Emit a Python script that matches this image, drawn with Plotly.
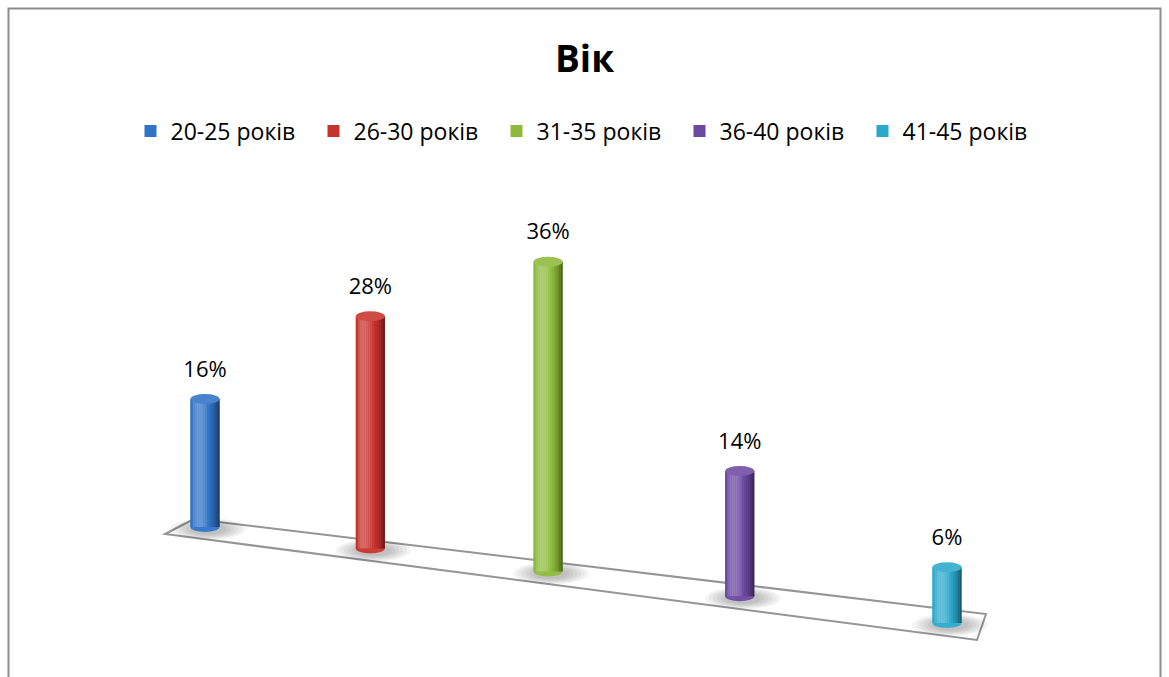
import math
import plotly.graph_objects as go

# ---- data ----
categories = ["20-25 років", "26-30 років", "31-35 років", "36-40 років", "41-45 років"]
values = [16, 28, 36, 14, 6]
labels = ["16%", "28%", "36%", "14%", "6%"]
title_text = "Вік"

# ---- style ----
mid_colors = ["#3072C6", "#C8322D", "#8DBA3B", "#6C48A2", "#2BA8CB"]

W, H = 1169, 677
PX_X = 742.0      # pixels per x unit
PX_Y = 8.0        # pixels per y unit (percent) at the back
X0_PX, Y0_PX = 205.0, 527.0
K = -0.14         # perspective strength
FLOOR_DROP = 12.0 # y units the floor drops from first to last bar
BAR_W = 29.0 / PX_X
CAP = 5.0 / PX_Y
N_STRIPS = 14

n = len(values)


def hex2rgb(h):
    h = h.lstrip("#")
    return [int(h[i:i + 2], 16) for i in (0, 2, 4)]


def mix(c1, c2, f):
    return [c1[k] + (c2[k] - c1[k]) * f for k in range(3)]


def rgb(c):
    return "rgb(%d,%d,%d)" % tuple(max(0, min(255, round(v))) for v in c)


def shade(base_hex, s):
    """colour across a cylinder, s in [0,1] from left to right"""
    base = hex2rgb(base_hex)
    dark = [v * 0.55 for v in base]
    light = mix(base, [255, 255, 255], 0.28)
    theta = math.asin(max(-1.0, min(1.0, 2 * s - 1)))
    inten = max(0.0, math.cos(theta + 0.45))
    if inten < 0.75:
        return rgb(mix(dark, base, inten / 0.75))
    return rgb(mix(base, light, (inten - 0.75) / 0.25))


def persp(i):
    u = i / (n - 1)
    p = 1.0 / (1.0 + K * u)
    t = u * (1.0 + K) * p
    return t, p


def dx(px):
    return (px - X0_PX) / PX_X


def dy(py):
    return (Y0_PX - py) / PX_Y


xs, bases, heights, tops = [], [], [], []
for i, v in enumerate(values):
    t, p = persp(i)
    xs.append(t)
    b = -FLOOR_DROP * t
    bases.append(b)
    heights.append(v * p)
    tops.append(b + v * p)

fig = go.Figure()

for i, cat in enumerate(categories):
    # legend / base layer
    fig.add_trace(go.Bar(
        x=[xs[i]], y=[heights[i]], base=[bases[i]],
        width=[BAR_W], offset=[-BAR_W / 2],
        marker=dict(color=mid_colors[i], line=dict(width=0)),
        name=cat, legendgroup=cat, showlegend=True,
        customdata=[labels[i]], hovertemplate=cat + ": %{customdata}<extra></extra>",
    ))
    # shading strips
    for k in range(N_STRIPS):
        a = k / N_STRIPS
        s = (k + 0.5) / N_STRIPS
        fig.add_trace(go.Bar(
            x=[xs[i]], y=[heights[i]], base=[bases[i]],
            width=[BAR_W / N_STRIPS * 1.05], offset=[-BAR_W / 2 + a * BAR_W],
            marker=dict(color=shade(mid_colors[i], s), line=dict(width=0)),
            name=cat, legendgroup=cat, showlegend=False, hoverinfo="skip",
        ))

# data labels
fig.add_trace(go.Scatter(
    x=xs, y=[tp + CAP + 23.0 / PX_Y for tp in tops], mode="text", text=labels,
    textfont=dict(family="Open Sans", size=22, color="#000000"),
    showlegend=False, hoverinfo="skip",
))

shapes = []
# frame
shapes.append(dict(type="rect", xref="paper", yref="paper",
                   x0=8.5 / W, x1=1160.5 / W, y0=-0.05, y1=1 - 8.5 / H,
                   line=dict(color="#8C8C8C", width=2), fillcolor="rgba(0,0,0,0)", layer="below"))
# floor
fl = [(194, 519), (165, 534), (977, 640), (986, 614)]
path = "M " + " L ".join(f"{dx(a):.5f},{dy(b):.4f}" for a, b in fl) + " Z"
shapes.append(dict(type="path", xref="x", yref="y", path=path,
                   line=dict(color="#959595", width=2), fillcolor="#FFFFFF", layer="below"))
# shadows and bottom ellipses
for i in range(n):
    cx, cy = xs[i] + 3 / PX_X, bases[i] - 2 / PX_Y
    for rw, rh in [(38, 11), (34, 10), (30, 9), (26, 8), (22, 7), (18, 6)]:
        shapes.append(dict(type="circle", xref="x", yref="y",
                           x0=cx - rw / PX_X, x1=cx + rw / PX_X,
                           y0=cy - rh / PX_Y, y1=cy + rh / PX_Y,
                           fillcolor="rgba(0,0,0,0.045)", line=dict(width=0), layer="below"))
    shapes.append(dict(type="circle", xref="x", yref="y",
                       x0=xs[i] - BAR_W / 2, x1=xs[i] + BAR_W / 2,
                       y0=bases[i] - CAP, y1=bases[i] + CAP,
                       fillcolor=shade(mid_colors[i], 0.6), line=dict(width=0), layer="below"))
    # top cap
    shapes.append(dict(type="circle", xref="x", yref="y",
                       x0=xs[i] - BAR_W / 2, x1=xs[i] + BAR_W / 2,
                       y0=tops[i] - CAP, y1=tops[i] + CAP,
                       fillcolor=rgb(mix(hex2rgb(mid_colors[i]), [255, 255, 255], 0.12)),
                       line=dict(width=0), layer="above"))

fig.update_layout(
    width=W, height=H,
    margin=dict(l=0, r=0, t=0, b=0),
    paper_bgcolor="#FFFFFF", plot_bgcolor="#FFFFFF",
    barmode="overlay",
    xaxis=dict(range=[dx(0), dx(W)], visible=False, fixedrange=True),
    yaxis=dict(range=[dy(H), dy(0)], visible=False, fixedrange=True),
    shapes=shapes,
    showlegend=True,
    legend=dict(orientation="h", x=0.503, xanchor="center", y=1 - 131 / H, yanchor="middle",
                font=dict(family="Open Sans", size=23, color="#000000"),
                entrywidth=138, entrywidthmode="pixels", itemclick=False, itemdoubleclick=False,
                bgcolor="rgba(0,0,0,0)"),
    annotations=[dict(text="<b>" + title_text + "</b>", xref="paper", yref="paper",
                      x=584 / W, y=1 - 57 / H, xanchor="center", yanchor="middle",
                      showarrow=False, font=dict(family="Open Sans", size=37, color="#000000"))],
)

fig.write_html("out.html")
